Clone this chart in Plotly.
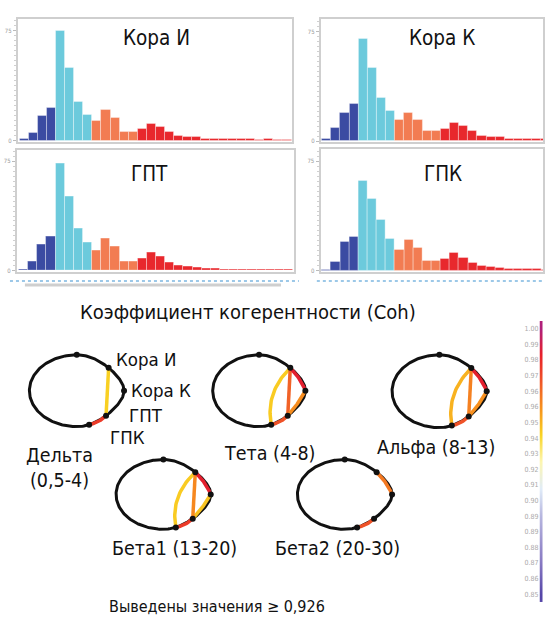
import numpy as np
import plotly.graph_objects as go
from plotly.colors import sample_colorscale

W, H = 545, 621

# ---------------- data ----------------
bins = list(range(30))
# bar class: 0 = dark blue, 1 = cyan, 2 = orange, 3 = red
bin_class = [0, 0, 0, 0, 1, 1, 1, 1, 2, 2, 2, 2, 2,
             3, 3, 3, 3, 3, 3, 3, 3, 3, 3, 3, 3, 3, 3, 3, 3, 3]

counts_kora_i = [1.5, 8, 25, 33, 110, 73, 39, 26, 20, 31, 23, 9, 9, 12, 17,
                 14, 9, 5, 4, 3.5, 2, 2, 1.5, 1.5, 1.5, 1.5, 1, 1.5, 1, 1]
counts_kora_k = [2, 13, 28, 37, 103, 74, 43, 30, 21, 28, 21, 10, 10, 12, 18,
                 15, 10, 5, 4, 4, 2, 2, 2, 2, 2, 1.5, 1.5, 1.5, 1, 1]
counts_gpt = [1.5, 9, 26, 34, 108, 75, 42, 28, 20, 32, 24, 9, 9, 12, 18,
              14, 8, 5, 4.3, 3.5, 2, 2, 1.5, 1.5, 1.5, 1.5, 1, 1.5, 1, 1]
counts_gpk = [1, 9, 29, 34, 90, 72, 51, 32, 21, 31, 23, 10, 10, 12, 18,
              13, 8, 5, 4, 3.5, 2, 2, 2, 2, 1.5, 1.5, 1.5, 1.5, 1, 1]

regions = ["Кора И", "Кора К", "ГПТ", "ГПК"]

bands = ["Дельта\n(0,5-4)", "Тета (4-8)", "Альфа (8-13)",
         "Бета1 (13-20)", "Бета2 (20-30)"]

# coherent pairs per band: (from, to, coherence)
links_delta = [("Кора И", "ГПТ", 0.941), ("ГПТ", "ГПК", 0.978)]
links_theta = [("Кора И", "ГПК", 0.942), ("Кора И", "ГПТ", 0.968),
               ("Кора К", "ГПТ", 0.957), ("ГПТ", "ГПК", 0.972),
               ("Кора И", "Кора К", 0.986)]
links_alpha = [("Кора И", "ГПК", 0.948), ("Кора И", "ГПТ", 0.960),
               ("Кора К", "ГПТ", 0.956), ("ГПТ", "ГПК", 0.972),
               ("Кора И", "Кора К", 0.986)]
links_beta1 = [("Кора И", "ГПК", 0.942), ("Кора К", "ГПТ", 0.944),
               ("Кора И", "ГПТ", 0.958), ("ГПТ", "ГПК", 0.978),
               ("Кора И", "Кора К", 0.986)]
links_beta2 = [("Кора И", "Кора К", 0.962), ("ГПТ", "ГПК", 0.972)]

cb_values = [1.000, 0.991, 0.982, 0.974, 0.965, 0.956, 0.947, 0.938, 0.929,
             0.921, 0.912, 0.903, 0.894, 0.885, 0.876, 0.868, 0.859, 0.850]
cb_labels = ["1.00", "0.99", "0.98", "0.97", "0.96", "0.96", "0.95", "0.94",
             "0.93", "0.92", "0.91", "0.90", "0.89", "0.89", "0.88", "0.87",
             "0.86", "0.85"]

# ---------------- styles ----------------
FONT = "DejaVu Sans Condensed, Liberation Sans Narrow, Roboto, sans-serif"
class_colors = ["#3b4ba2", "#6ccadc", "#f27c52", "#e8282d"]
coh_scale = [
    [0.00, "rgb(86,70,168)"],
    [0.13, "rgb(138,124,196)"],
    [0.30, "rgb(184,184,224)"],
    [0.40, "rgb(224,236,248)"],
    [0.50, "rgb(253,246,176)"],
    [0.60, "rgb(249,212,35)"],
    [0.70, "rgb(247,148,29)"],
    [0.80, "rgb(240,90,40)"],
    [0.90, "rgb(232,32,42)"],
    [1.00, "rgb(176,32,122)"],
]
CMIN, CMAX = 0.85, 1.0


def px(x):
    return x / W


def py(y):
    return 1 - y / H


def coh_color(v):
    return sample_colorscale(coh_scale, [(v - CMIN) / (CMAX - CMIN)])[0]


def label(x, y, text, size, **kw):
    return dict(x=px(x), y=py(y), xref="paper", yref="paper", text=text,
                showarrow=False, xanchor="center", yanchor="middle",
                font=dict(size=size, color="#111111", family=FONT), **kw)


fig = go.Figure()

# ---------------- histograms ----------------
# (counts, x pixel span, y pixel span (top, baseline), x range, label centre)
panels = [
    (counts_kora_i, (18, 293), (19, 141), (-0.72, 29.55), (157, 38)),
    (counts_kora_k, (322, W), (19, 141.7), (-0.62, 23.7), (444, 38)),
    (counts_gpt, (17, 295), (150, 271.7), (-0.72, 29.6), (150, 175)),
    (counts_gpk, (321.7, W), (149.3, 271.7), (-0.64, 23.7), (445, 175)),
]
bar_colors = [class_colors[c] for c in bin_class]
annotations = []
for i, (cnt, (x0, x1), (yt, yb), xr, (lx, ly)) in enumerate(panels):
    n = "" if i == 0 else str(i + 1)
    fig.add_trace(go.Bar(
        x=bins, y=cnt, width=1, marker=dict(color=bar_colors,
        line=dict(color="rgba(255,255,255,0.45)", width=0.8)),
        xaxis="x" + n, yaxis="y" + n, showlegend=False, hoverinfo="skip"))
    span = yb - yt
    fig.layout["xaxis" + n] = dict(
        domain=[px(x0), min(px(x1), 1)], range=list(xr),
        showgrid=False, zeroline=False, showticklabels=False, ticks="",
        showline=True, mirror=True, linecolor="#cfcfcf", linewidth=2,
        anchor="y" + n)
    fig.layout["yaxis" + n] = dict(
        domain=[py(yb + 1), py(yt)], range=[-1, span],
        showgrid=False, zeroline=False, showline=True, mirror=True,
        linecolor="#cfcfcf", linewidth=2, anchor="x" + n,
        tickvals=[0, 110], ticktext=["0", "75"], ticks="outside",
        ticklen=3, tickcolor="#bbbbbb",
        tickfont=dict(size=6, color="#999999", family=FONT),
        minor=dict(dtick=5, ticklen=2, tickcolor="#d0d0d0", ticks="outside"))
    annotations.append(label(lx, ly, regions[i], 20.5))

# ---------------- coherence graphs ----------------
# outline centre (pixels) and semi-axes; the outline narrows a little
# towards the right-hand side where the recording sites sit
ovals = [(77, 392, 47.5, 36), (260, 392, 46.5, 36), (441, 392.5, 47.5, 36.5),
         (164, 496, 47.5, 35), (346, 496, 47.5, 35)]
PINCH = 0.3
node_angle = {"Кора И": 47.6, "Кора К": 0.0, "ГПТ": -51.7, "ГПК": -74.8}
bend = {("Кора И", "ГПК"): 16, ("Кора И", "ГПТ"): 0, ("Кора К", "ГПТ"): -2,
        ("ГПТ", "ГПК"): -3, ("Кора И", "Кора К"): -3}
all_links = [links_delta, links_theta, links_alpha, links_beta1, links_beta2]


def outline_point(cx, cy, a, b, t):
    c, s = np.cos(t), np.sin(t)
    f = 1 - PINCH * np.clip(c, 0, None) ** 2
    return cx + a * c, cy - b * s * f


t = np.linspace(0, 2 * np.pi, 240)
for (cx, cy, a, b), links in zip(ovals, all_links):
    ox, oy = outline_point(cx, cy, a, b, t)
    fig.add_trace(go.Scatter(
        x=ox, y=oy, mode="lines", line=dict(color="#111111", width=3),
        xaxis="x6", yaxis="y6", showlegend=False, hoverinfo="skip"))
    nodes = {r: outline_point(cx, cy, a, b, np.radians(node_angle[r]))
             for r in regions}
    for src, dst, v in links:
        (sx, sy), (ex, ey) = nodes[src], nodes[dst]
        mx, my = (sx + ex) / 2, (sy + ey) / 2
        dx, dy = cx - mx, cy - my
        d = np.hypot(dx, dy)
        k = bend[(src, dst)]
        qx, qy = mx + k * dx / d, my + k * dy / d
        s = np.linspace(0, 1, 30)
        bx = (1 - s) ** 2 * sx + 2 * (1 - s) * s * qx + s ** 2 * ex
        by = (1 - s) ** 2 * sy + 2 * (1 - s) * s * qy + s ** 2 * ey
        fig.add_trace(go.Scatter(
            x=bx, y=by, mode="lines", line=dict(color=coh_color(v), width=3.5),
            xaxis="x6", yaxis="y6", showlegend=False, hoverinfo="skip"))
    nx = [nodes[r][0] for r in regions] + [cx]
    ny = [nodes[r][1] for r in regions] + [cy - b]
    fig.add_trace(go.Scatter(
        x=nx, y=ny, mode="markers", marker=dict(color="#111111", size=6),
        xaxis="x6", yaxis="y6", showlegend=False, hoverinfo="skip"))

fig.layout.xaxis6 = dict(domain=[0, 1], range=[0, W], visible=False,
                         anchor="y6")
fig.layout.yaxis6 = dict(domain=[0, 1], range=[H, 0], visible=False,
                         anchor="x6")

# region labels next to the delta graph
for name, (lx, ly) in zip(regions, [(147, 361), (162, 392), (147, 417),
                                    (128, 439)]):
    annotations.append(label(lx, ly, name, 18.5, bgcolor="white",
                             borderpad=0))

band_pos = [(60, 470), (270, 455), (438, 449), (175, 550), (339, 550)]
for name, (lx, ly) in zip(bands, band_pos):
    annotations.append(label(lx, ly, name.replace("\n", "<br>"), 19.5))

annotations.append(label(249, 313, "Коэффициент когерентности (Coh)", 20))
annotations.append(label(218, 608, "Выведены значения ≥ 0,926", 16))

# ---------------- colour scale strip ----------------
fig.add_trace(go.Heatmap(
    z=[[v] for v in cb_values], x=[0], y=list(range(len(cb_values))),
    colorscale=coh_scale, zmin=CMIN, zmax=CMAX, showscale=False,
    zsmooth="best", xaxis="x7", yaxis="y7", hoverinfo="skip"))
fig.layout.xaxis7 = dict(domain=[px(541.5), 1], visible=False, anchor="y7")
fig.layout.yaxis7 = dict(
    domain=[py(604), py(322)], range=[len(cb_values) - 0.5, -0.5],
    anchor="x7", tickvals=list(range(len(cb_values))), ticktext=cb_labels,
    tickfont=dict(size=7, color="#aaaaaa", family=FONT), ticks="",
    showgrid=False, zeroline=False, showline=False)

# scroll strip under the lower histograms
shapes = [
    dict(type="line", xref="paper", yref="paper", x0=px(10), x1=px(300),
         y0=py(282), y1=py(282), line=dict(color="#9cc8e8", width=2, dash="dot")),
    dict(type="line", xref="paper", yref="paper", x0=px(318), x1=1,
         y0=py(282), y1=py(282), line=dict(color="#9cc8e8", width=2, dash="dot")),
    dict(type="line", xref="paper", yref="paper", x0=px(25), x1=px(282),
         y0=py(286), y1=py(286), line=dict(color="#cfcfcf", width=3)),
]

fig.update_layout(
    width=W, height=H, margin=dict(l=0, r=0, t=0, b=0),
    paper_bgcolor="white", plot_bgcolor="rgba(0,0,0,0)",
    bargap=0, annotations=annotations, shapes=shapes, showlegend=False,
    font=dict(family=FONT))

fig.write_html("out.html")
